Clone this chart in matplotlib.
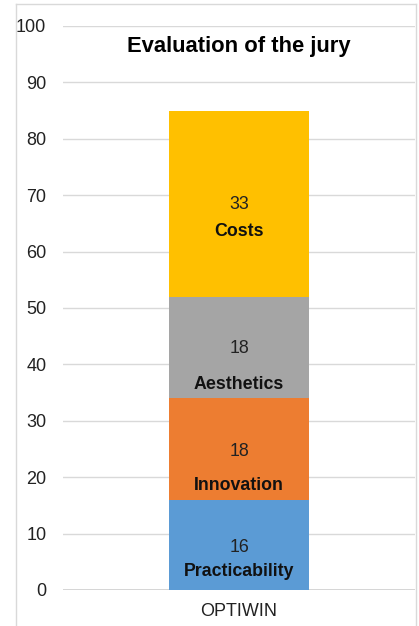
import numpy as np
import matplotlib.pyplot as plt
from matplotlib.lines import Line2D

plt.rcParams['font.family'] = ['Liberation Sans', 'DejaVu Sans']

# data
group = 'OPTIWIN'
categories = ['Practicability', 'Innovation', 'Aesthetics', 'Costs']
values = [16, 18, 18, 33]
colors = ['#5b9bd5', '#ed7d31', '#a5a5a5', '#ffc000']

# label placement inside each segment (offset from segment bottom), set by hand
num_off = [7.6, 8.6, 8.9, 16.3]
name_off = [3.2, 2.6, 2.5, 11.5]

fig = plt.figure(figsize=(4.19, 6.26), dpi=100)
ax = fig.add_axes([63 / 419, 36 / 626, (415 - 63) / 419, 564 / 626])

bottom = 0
for i in range(len(values)):
    ax.bar(0, values[i], width=0.4, bottom=bottom, color=colors[i], zorder=3)
    ax.text(0, bottom + num_off[i], str(values[i]), ha='center', va='center',
            fontsize=12.8, color='#222222', zorder=4)
    ax.text(0, bottom + name_off[i], categories[i], ha='center', va='center',
            fontsize=12.8, fontweight='bold', color='#111111', zorder=4)
    bottom += values[i]

ax.set_xlim(-0.5, 0.5)
ax.set_ylim(0, 100)
ax.set_yticks(np.arange(0, 101, 10))
ax.set_xticks([0])
ax.set_xticklabels([group])
ax.yaxis.grid(True, color='#d9d9d9', linewidth=1, zorder=0)
ax.tick_params(axis='both', length=0, labelsize=13, colors='#222222')
ax.tick_params(axis='y', pad=12)
ax.tick_params(axis='x', pad=9)
for s in ax.spines.values():
    s.set_visible(False)
ax.axhline(0, color='#d0d0d0', linewidth=1.2, zorder=2)

ax.text(0.5, 96.3, 'Evaluation of the jury', transform=ax.get_yaxis_transform(),
        ha='center', va='center', fontsize=15.8, fontweight='bold')

# outer chart border (left, top, right)
c = '#d9d9d9'
fig.add_artist(Line2D([15.5 / 419, 15.5 / 419], [0, 1 - 4 / 626], color=c, lw=1, transform=fig.transFigure))
fig.add_artist(Line2D([15.5 / 419, 415.5 / 419], [1 - 4 / 626, 1 - 4 / 626], color=c, lw=1, transform=fig.transFigure))
fig.add_artist(Line2D([415.5 / 419, 415.5 / 419], [0, 1 - 4 / 626], color=c, lw=1, transform=fig.transFigure))

fig.savefig('out.png', dpi=100)
